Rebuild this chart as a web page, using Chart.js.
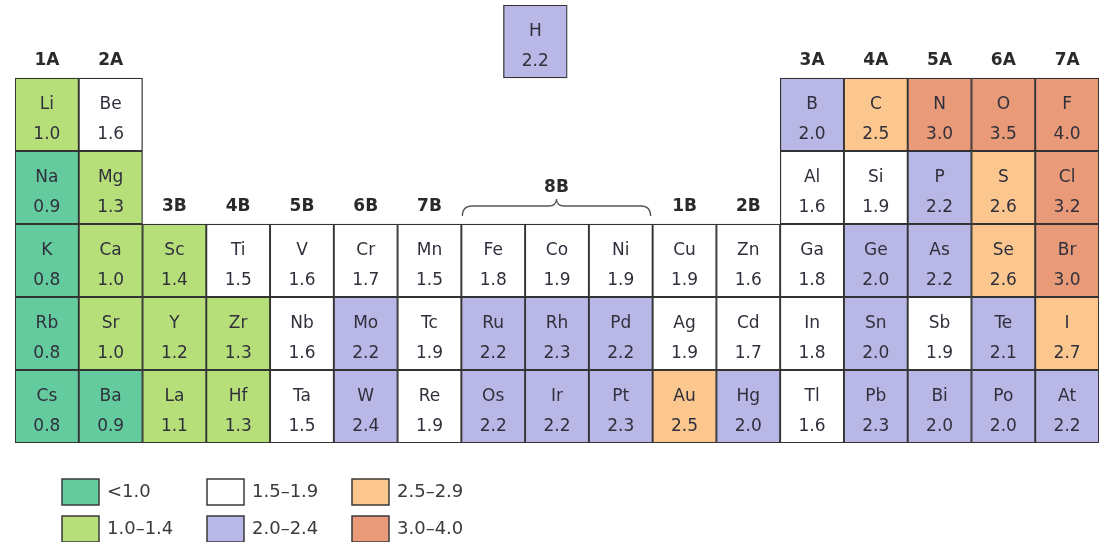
<!DOCTYPE html>
<html><head><meta charset="utf-8">
<script src="https://cdn.jsdelivr.net/npm/chart.js@4"></script>
<style>html,body{margin:0;padding:0;background:#fff}#wrap{width:1099px;height:542px}</style>
</head><body><div id="wrap"><canvas id="c" width="1099" height="542"></canvas></div>
<script>
// ---------- DATA ----------
const groupLabels = ["1A","2A","3B","4B","5B","6B","7B","8B","8B","8B","1B","2B","3A","4A","5A","6A","7A"];

const period1Symbols = ["H"];
const period1Values  = [2.2];

const period2Symbols = ["Li","Be","B","C","N","O","F"];
const period2Values  = [1.0, 1.6, 2.0, 2.5, 3.0, 3.5, 4.0];

const period3Symbols = ["Na","Mg","Al","Si","P","S","Cl"];
const period3Values  = [0.9, 1.3, 1.6, 1.9, 2.2, 2.6, 3.2];

const period4Symbols = ["K","Ca","Sc","Ti","V","Cr","Mn","Fe","Co","Ni","Cu","Zn","Ga","Ge","As","Se","Br"];
const period4Values  = [0.8,1.0,1.4,1.5,1.6,1.7,1.5,1.8,1.9,1.9,1.9,1.6,1.8,2.0,2.2,2.6,3.0];

const period5Symbols = ["Rb","Sr","Y","Zr","Nb","Mo","Tc","Ru","Rh","Pd","Ag","Cd","In","Sn","Sb","Te","I"];
const period5Values  = [0.8,1.0,1.2,1.3,1.6,2.2,1.9,2.2,2.3,2.2,1.9,1.7,1.8,2.0,1.9,2.1,2.7];

const period6Symbols = ["Cs","Ba","La","Hf","Ta","W","Re","Os","Ir","Pt","Au","Hg","Tl","Pb","Bi","Po","At"];
const period6Values  = [0.8,0.9,1.1,1.3,1.5,2.4,1.9,2.2,2.2,2.3,2.5,2.0,1.6,2.3,2.0,2.0,2.2];

const classLabels = ["<1.0","1.0\u20131.4","1.5\u20131.9","2.0\u20132.4","2.5\u20132.9","3.0\u20134.0"];
const classThresholds = [1.0, 1.5, 2.0, 2.5, 3.0];

// ---------- STRUCTURE / STYLE ----------
const classColors = ["#64cb9f","#b6df7a","#ffffff","#b8b7e6","#fcc78f","#e99a78"];
const mainGroupCols = [1,2,13,14,15,16,17];
const allCols = Array.from({length:17},(_,i)=>i+1);
const hydrogenX = 8.66;

function classOf(v){ let k=0; classThresholds.forEach(t=>{ if(v>=t-1e-9) k++; }); return k; }

const periods = [
  {syms: period1Symbols, vals: period1Values, cols: [hydrogenX]},
  {syms: period2Symbols, vals: period2Values, cols: mainGroupCols},
  {syms: period3Symbols, vals: period3Values, cols: mainGroupCols},
  {syms: period4Symbols, vals: period4Values, cols: allCols},
  {syms: period5Symbols, vals: period5Values, cols: allCols},
  {syms: period6Symbols, vals: period6Values, cols: allCols}
];
const cells = [];
periods.forEach((p, r) => {
  p.syms.forEach((s, i) => cells.push({x: p.cols[i], y: [r, r+1], sym: s, v: p.vals[i]}));
});

const FONT = '"DejaVu Sans", sans-serif';
const TEXT = '#30303c';

const cellText = {
  id: 'cellText',
  afterDatasetsDraw(chart){
    const ctx = chart.ctx, meta = chart.getDatasetMeta(0), data = chart.data.datasets[0].data;
    ctx.save();
    ctx.fillStyle = TEXT; ctx.textAlign = 'center'; ctx.textBaseline = 'middle';
    ctx.font = '17px ' + FONT;
    meta.data.forEach((el, i) => {
      const top = Math.min(el.y, el.base);
      ctx.fillText(data[i].sym, el.x, top + 27);
      ctx.fillText(data[i].v.toFixed(1), el.x, top + 57);
    });
    // group labels
    const xs = chart.scales.x, ys = chart.scales.y;
    ctx.font = 'bold 17px ' + FONT;
    ctx.fillStyle = '#2a2a2a';
    groupLabels.forEach((g, i) => {
      const col = i + 1;
      if (g === '8B') return;
      const isA = g.endsWith('A');
      const y = ys.getPixelForValue(isA ? 1 : 3) - 17;
      ctx.fillText(g, xs.getPixelForValue(col), y);
    });
    // 8B label + brace
    const cols8 = allCols.filter((c,i)=>groupLabels[i]==='8B');
    const xl = xs.getPixelForValue(cols8[0]-0.5)+1, xr = xs.getPixelForValue(cols8[cols8.length-1]+0.5)-2;
    const xm = (xl+xr)/2;
    const yl = ys.getPixelForValue(3) - 18;
    ctx.fillText('8B', xm, ys.getPixelForValue(3) - 36);
    ctx.strokeStyle = '#555'; ctx.lineWidth = 1.3;
    ctx.beginPath();
    ctx.moveTo(xl, yl+10);
    ctx.quadraticCurveTo(xl, yl, xl+10, yl);
    ctx.lineTo(xm-8, yl);
    ctx.quadraticCurveTo(xm, yl, xm, yl-7);
    ctx.quadraticCurveTo(xm, yl, xm+8, yl);
    ctx.lineTo(xr-10, yl);
    ctx.quadraticCurveTo(xr, yl, xr, yl+10);
    ctx.stroke();
    // legend
    ctx.font = '18px ' + FONT;
    ctx.textAlign = 'left';
    classLabels.forEach((lab, i) => {
      const col = Math.floor(i/2), row = i % 2;
      const bx = 62 + col*145, by = 479 + row*37;
      ctx.fillStyle = classColors[i];
      ctx.fillRect(bx, by, 37, 26);
      ctx.strokeStyle = '#3a3a3a'; ctx.lineWidth = 1.5;
      ctx.strokeRect(bx, by, 37, 26);
      ctx.fillStyle = '#3a3a3a';
      ctx.fillText(lab, bx + 45, by + 13);
    });
    ctx.restore();
  }
};

new Chart(document.getElementById('c'), {
  type: 'bar',
  data: { datasets: [{
    data: cells,
    backgroundColor: c => classColors[classOf(c.raw.v)],
    borderColor: '#333333',
    borderWidth: 1.3,
    borderSkipped: false,
    barThickness: (1099-15)/17
  }]},
  options: {
    responsive: false, animation: false,
    layout: { padding: { left: 15, right: 0, top: 5, bottom: 99 } },
    scales: {
      x: { type: 'linear', min: 0.5, max: 17.5, display: false, offset: false },
      y: { type: 'linear', min: 0, max: 6, reverse: true, display: false }
    },
    plugins: { legend: { display: false }, tooltip: { enabled: false } }
  },
  plugins: [cellText]
});
</script></body></html>
